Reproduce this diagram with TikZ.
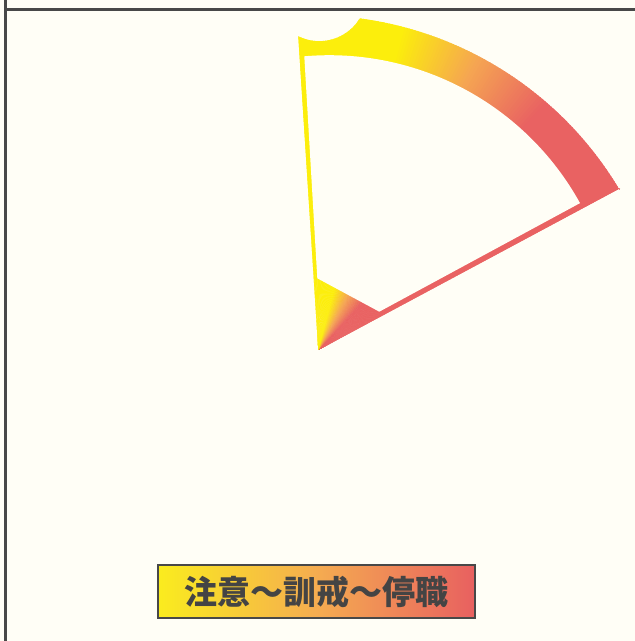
\documentclass[tikz,border=0pt]{standalone}
\usepackage{fontspec}
\newfontfamily\cjk{Noto Sans CJK JP}
\usetikzlibrary{calc}
\definecolor{bg}{RGB}{255,254,246}
\definecolor{yel}{RGB}{252,238,12}
\definecolor{orng}{RGB}{245,165,82}
\definecolor{rd}{RGB}{233,98,98}
\definecolor{lyel}{RGB}{250,236,30}
\definecolor{lorng}{RGB}{245,172,80}
\definecolor{lrd}{RGB}{232,96,96}
\definecolor{framegray}{RGB}{72,72,72}
\definecolor{txtgray}{RGB}{68,68,68}
\tikzset{
  frameline/.style={draw=framegray, line width=3pt},
  labelbox/.style={draw=framegray, line width=1.2pt, left color=lyel, right color=lrd, middle color=lorng,
    minimum width=317pt, minimum height=53pt, inner sep=0pt,
    font=\cjk\bfseries\fontsize{33}{33}\selectfont, text=txtgray}
}
\begin{document}
\begin{tikzpicture}[x=1pt,y=1pt]
\useasboundingbox (0,0) rectangle (635,641);
\fill[bg] (0,0) rectangle (635,641);
\coordinate (V) at (318.3,291);
\coordinate (A) at (298.3,604.7);
\coordinate (D) at (620,452.7);
\coordinate (TL) at (304.3,584.7);
\coordinate (CR) at (379.3,329.3);
\coordinate (CL) at (317.3,362.7);
% coloured fan with conical gradient around V
\begin{scope}
  \clip (V) -- (A) arc[start angle=243.8, end angle=328.6, radius=47.5]
        arc[start angle=82.42, end angle=30.76, radius=357] -- (D) -- cycle;
  \foreach \a in {24,24.5,...,97}{
    \pgfmathsetmacro\p{max(0,min(100,(\a-47)/14*100))}
    \pgfmathsetmacro\q{max(0,min(100,(\a-61)/14*100))}
    \ifdim\a pt<61pt \def\col{orng!\p!rd}\else\def\col{yel!\q!orng}\fi
    \fill[\col] (V) -- +(\a:420) -- +(\a+0.8:420) -- cycle;
  }
\end{scope}
% inner empty region
\fill[bg] (TL) arc[start angle=95.0, end angle=28.93, radius=286.5] -- (CR) -- (CL) -- cycle;
% label
\node[labelbox] (label) at (316.5,49.5) {注意～訓戒～停職};
% frame
\draw[frameline] (4,631) -- (635,631);
\draw[frameline, line width=2.6pt] (5.5,0) -- (5.5,641);
\end{tikzpicture}
\end{document}
